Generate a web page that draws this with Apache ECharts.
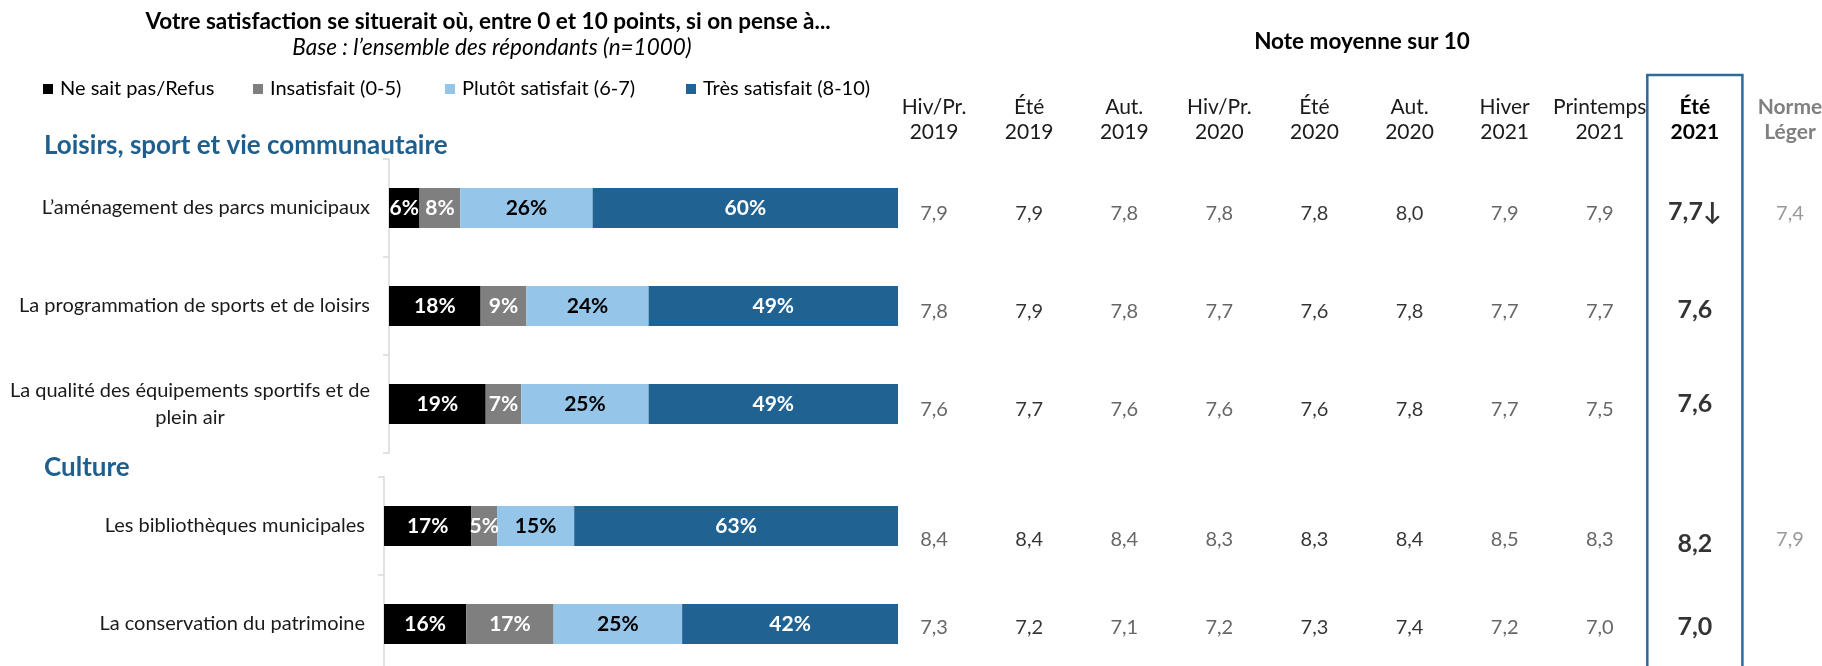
<!DOCTYPE html>
<html><head><meta charset="utf-8">
<script src="https://cdn.jsdelivr.net/npm/echarts@6/dist/echarts.min.js"></script>
<style>html,body{margin:0;padding:0;background:#fff}#c{width:1822px;height:666px}</style>
</head><body><div id="c"></div>
<script>
const FONT = 'Lato, "Noto Sans", sans-serif';

// ---- data ----
const seriesNames = ['Ne sait pas/Refus', 'Insatisfait (0-5)', 'Plutôt satisfait (6-7)', 'Très satisfait (8-10)'];
const loisirsItems = ['L’aménagement des parcs municipaux', 'La programmation de sports et de loisirs', 'La qualité des équipements sportifs et de\nplein air'];
const cultureItems = ['Les bibliothèques municipales', 'La conservation du patrimoine'];
const loisirsNsp = [6, 18, 19];
const loisirsInsat = [8, 9, 7];
const loisirsPlutot = [26, 24, 25];
const loisirsTres = [60, 49, 49];
const cultureNsp = [17, 16];
const cultureInsat = [5, 17];
const culturePlutot = [15, 25];
const cultureTres = [63, 42];
const periods = ['Hiv/Pr.\n2019', 'Été\n2019', 'Aut.\n2019', 'Hiv/Pr.\n2020', 'Été\n2020', 'Aut.\n2020', 'Hiver\n2021', 'Printemps\n2021', 'Été\n2021', 'Norme\nLéger'];
const scoresParcs = [7.9, 7.9, 7.8, 7.8, 7.8, 8.0, 7.9, 7.9, 7.7, 7.4];
const scoresProgrammation = [7.8, 7.9, 7.8, 7.7, 7.6, 7.8, 7.7, 7.7, 7.6, null];
const scoresEquipements = [7.6, 7.7, 7.6, 7.6, 7.6, 7.8, 7.7, 7.5, 7.6, null];
const scoresBibliotheques = [8.4, 8.4, 8.4, 8.3, 8.3, 8.4, 8.5, 8.3, 8.2, 7.9];
const scoresPatrimoine = [7.3, 7.2, 7.1, 7.2, 7.3, 7.4, 7.2, 7.0, 7.0, null];
const significance = ['↓', '', '', '', ''];

// ---- styles ----
const colors = ['#000000', '#7F7F7F', '#95C5E8', '#206393'];
const labelColors = ['#ffffff', '#ffffff', '#000000', '#ffffff'];
const axisGrey = '#D9D9D9';
const CUR = 8, NORM = 9;

const chart = echarts.init(document.getElementById('c'), null, {renderer: 'canvas'});

function barSeries(gi, arrays) {
  return arrays.map((arr, i) => ({
    name: seriesNames[i], type: 'bar', stack: 'g' + gi,
    xAxisIndex: gi, yAxisIndex: gi, barWidth: 40,
    data: arr,
    itemStyle: {color: colors[i]},
    label: {show: true, position: 'inside', formatter: '{c}%', color: labelColors[i],
      fontFamily: FONT, fontWeight: 'bold', fontSize: 21},
    emphasis: {disabled: true}
  }));
}

function fmt(v) { return v.toFixed(1).replace('.', ','); }

function colLabelStyle(c) {
  if (c === CUR) return {fontSize: 25, fontWeight: 'bold', color: '#000'};
  if (c === NORM) return {fontSize: 20, color: '#7F7F7F'};
  if (c === 1 || c === 4 || c === 5) return {fontSize: 20, color: '#000'};
  return {fontSize: 20, color: '#404040'};
}

function tableSeries(gi, rows, rowOffset, curOffset) {
  const data = [];
  rows.forEach((row, r) => {
    row.scores.forEach((v, c) => {
      if (v === null) return;
      const st = colLabelStyle(c);
      const off = c === CUR ? curOffset[r] : rowOffset[r];
      data.push({value: [c, r], text: fmt(v) + (c === CUR ? row.sig : ''),
        label: Object.assign({offset: [0, off]}, st)});
    });
  });
  return {
    type: 'scatter', xAxisIndex: gi, yAxisIndex: gi, symbolSize: 1,
    itemStyle: {color: 'rgba(0,0,0,0)'},
    label: {show: true, position: 'inside', fontFamily: FONT, formatter: p => p.data.text},
    emphasis: {disabled: true},
    data
  };
}

const yLabelRich = {
  r: {align: 'right', fontFamily: FONT, fontSize: 20, lineHeight: 27, color: '#1a1a1a'},
  c: {align: 'center', fontFamily: FONT, fontSize: 20, lineHeight: 27, color: '#1a1a1a'}
};
function yLabelFmt(v) {
  const lines = v.split('\n');
  if (lines.length === 1) return v;
  return lines.map((l, i) => (i === 0 ? '{r|' : '{c|') + l + '}').join('\n');
}
function catAxis(gi, cats) {
  return {type: 'category', gridIndex: gi, data: cats, inverse: true,
    axisLine: {show: true, lineStyle: {color: axisGrey, width: 1.5}},
    axisTick: {show: true, length: 6, lineStyle: {color: axisGrey, width: 1.5}},
    axisLabel: {margin: 19, fontFamily: FONT, fontSize: 20, color: '#1a1a1a',
      formatter: yLabelFmt, rich: yLabelRich}};
}
function hiddenCat(gi, cats) {
  return {type: 'category', gridIndex: gi, data: cats, inverse: true, show: false};
}

const headRich = {
  n: {fontFamily: FONT, fontSize: 21, lineHeight: 25, color: '#1a1a1a'},
  b: {fontFamily: FONT, fontSize: 21, lineHeight: 25, color: '#000', fontWeight: 'bold'},
  g: {fontFamily: FONT, fontSize: 21, lineHeight: 25, color: '#7F7F7F', fontWeight: 'bold'}
};
function headFmt(v, idx) {
  const tag = idx === CUR ? 'b' : (idx === NORM ? 'g' : 'n');
  return v.split('\n').map(l => '{' + tag + '|' + l + '}').join('\n');
}

const texts = [
  {type: 'text', x: 488, y: 22, style: {text: 'Votre satisfaction se situerait où, entre 0 et 10 points, si on pense à...',
    fontFamily: FONT, fontSize: 22.5, fontWeight: 'bold', fill: '#000', align: 'center', verticalAlign: 'middle'}},
  {type: 'text', x: 492, y: 48, style: {text: 'Base : l’ensemble des répondants (n=1000)',
    fontFamily: FONT, fontSize: 22.5, fontStyle: 'italic', fill: '#000', align: 'center', verticalAlign: 'middle'}},
  {type: 'text', x: 1362, y: 42, style: {text: 'Note moyenne sur 10',
    fontFamily: FONT, fontSize: 22.5, fontWeight: 'bold', fill: '#000', align: 'center', verticalAlign: 'middle'}},
  {type: 'text', x: 44, y: 146, style: {text: 'Loisirs, sport et vie communautaire',
    fontFamily: FONT, fontSize: 26, fontWeight: 'bold', fill: '#1F5F8E', align: 'left', verticalAlign: 'middle'}},
  {type: 'text', x: 44, y: 468, style: {text: 'Culture',
    fontFamily: FONT, fontSize: 26, fontWeight: 'bold', fill: '#1F5F8E', align: 'left', verticalAlign: 'middle'}}
];

const legendLefts = [43, 253, 445, 686];
const option = {
  animation: false,
  backgroundColor: '#ffffff',
  legend: seriesNames.map((n, i) => ({
    data: [n], left: legendLefts[i], top: 79, padding: 0, itemWidth: 10, itemHeight: 10, icon: 'rect',
    itemGap: 0, selectedMode: false,
    textStyle: {fontFamily: FONT, fontSize: 20, color: '#000', padding: [0, 0, 0, 2]}
  })),
  grid: [
    {left: 389, right: 924, top: 159, height: 294, outerBoundsMode: 'none'},
    {left: 384, right: 924, top: 477, height: 196, outerBoundsMode: 'none'},
    {left: 886.5, width: 951, top: 159, height: 294, outerBoundsMode: 'none'},
    {left: 886.5, width: 951, top: 477, height: 196, outerBoundsMode: 'none'}
  ],
  xAxis: [
    {type: 'value', gridIndex: 0, min: 0, max: 100, show: false},
    {type: 'value', gridIndex: 1, min: 0, max: 100, show: false},
    {type: 'category', gridIndex: 2, data: periods, position: 'top',
      axisLine: {show: false}, axisTick: {show: false}, splitLine: {show: false},
      axisLabel: {interval: 0, margin: 14, formatter: headFmt, rich: headRich}},
    {type: 'category', gridIndex: 3, data: periods, show: false}
  ],
  yAxis: [
    catAxis(0, loisirsItems),
    catAxis(1, cultureItems),
    hiddenCat(2, loisirsItems),
    hiddenCat(3, cultureItems)
  ],
  series: [
    ...barSeries(0, [loisirsNsp, loisirsInsat, loisirsPlutot, loisirsTres]),
    ...barSeries(1, [cultureNsp, cultureInsat, culturePlutot, cultureTres]),
    tableSeries(2, [
      {scores: scoresParcs, sig: significance[0]},
      {scores: scoresProgrammation, sig: significance[1]},
      {scores: scoresEquipements, sig: significance[2]}
    ], [6, 6, 6], [4, 4, 0]),
    tableSeries(3, [
      {scores: scoresBibliotheques, sig: significance[3]},
      {scores: scoresPatrimoine, sig: significance[4]}
    ], [14, 4], [18, 3])
  ],
  graphic: texts
};
chart.setOption(option);

// highlight box around the current period column
const xc = chart.convertToPixel({xAxisIndex: 2}, CUR);
const xp = chart.convertToPixel({xAxisIndex: 2}, CUR - 1);
const band = xc - xp;
chart.setOption({graphic: texts.concat([{type: 'rect', z: 10,
  shape: {x: xc - band / 2, y: 75, width: band, height: 700},
  style: {fill: 'none', stroke: '#2E6A9B', lineWidth: 2.5}}])});
</script>
</body></html>
